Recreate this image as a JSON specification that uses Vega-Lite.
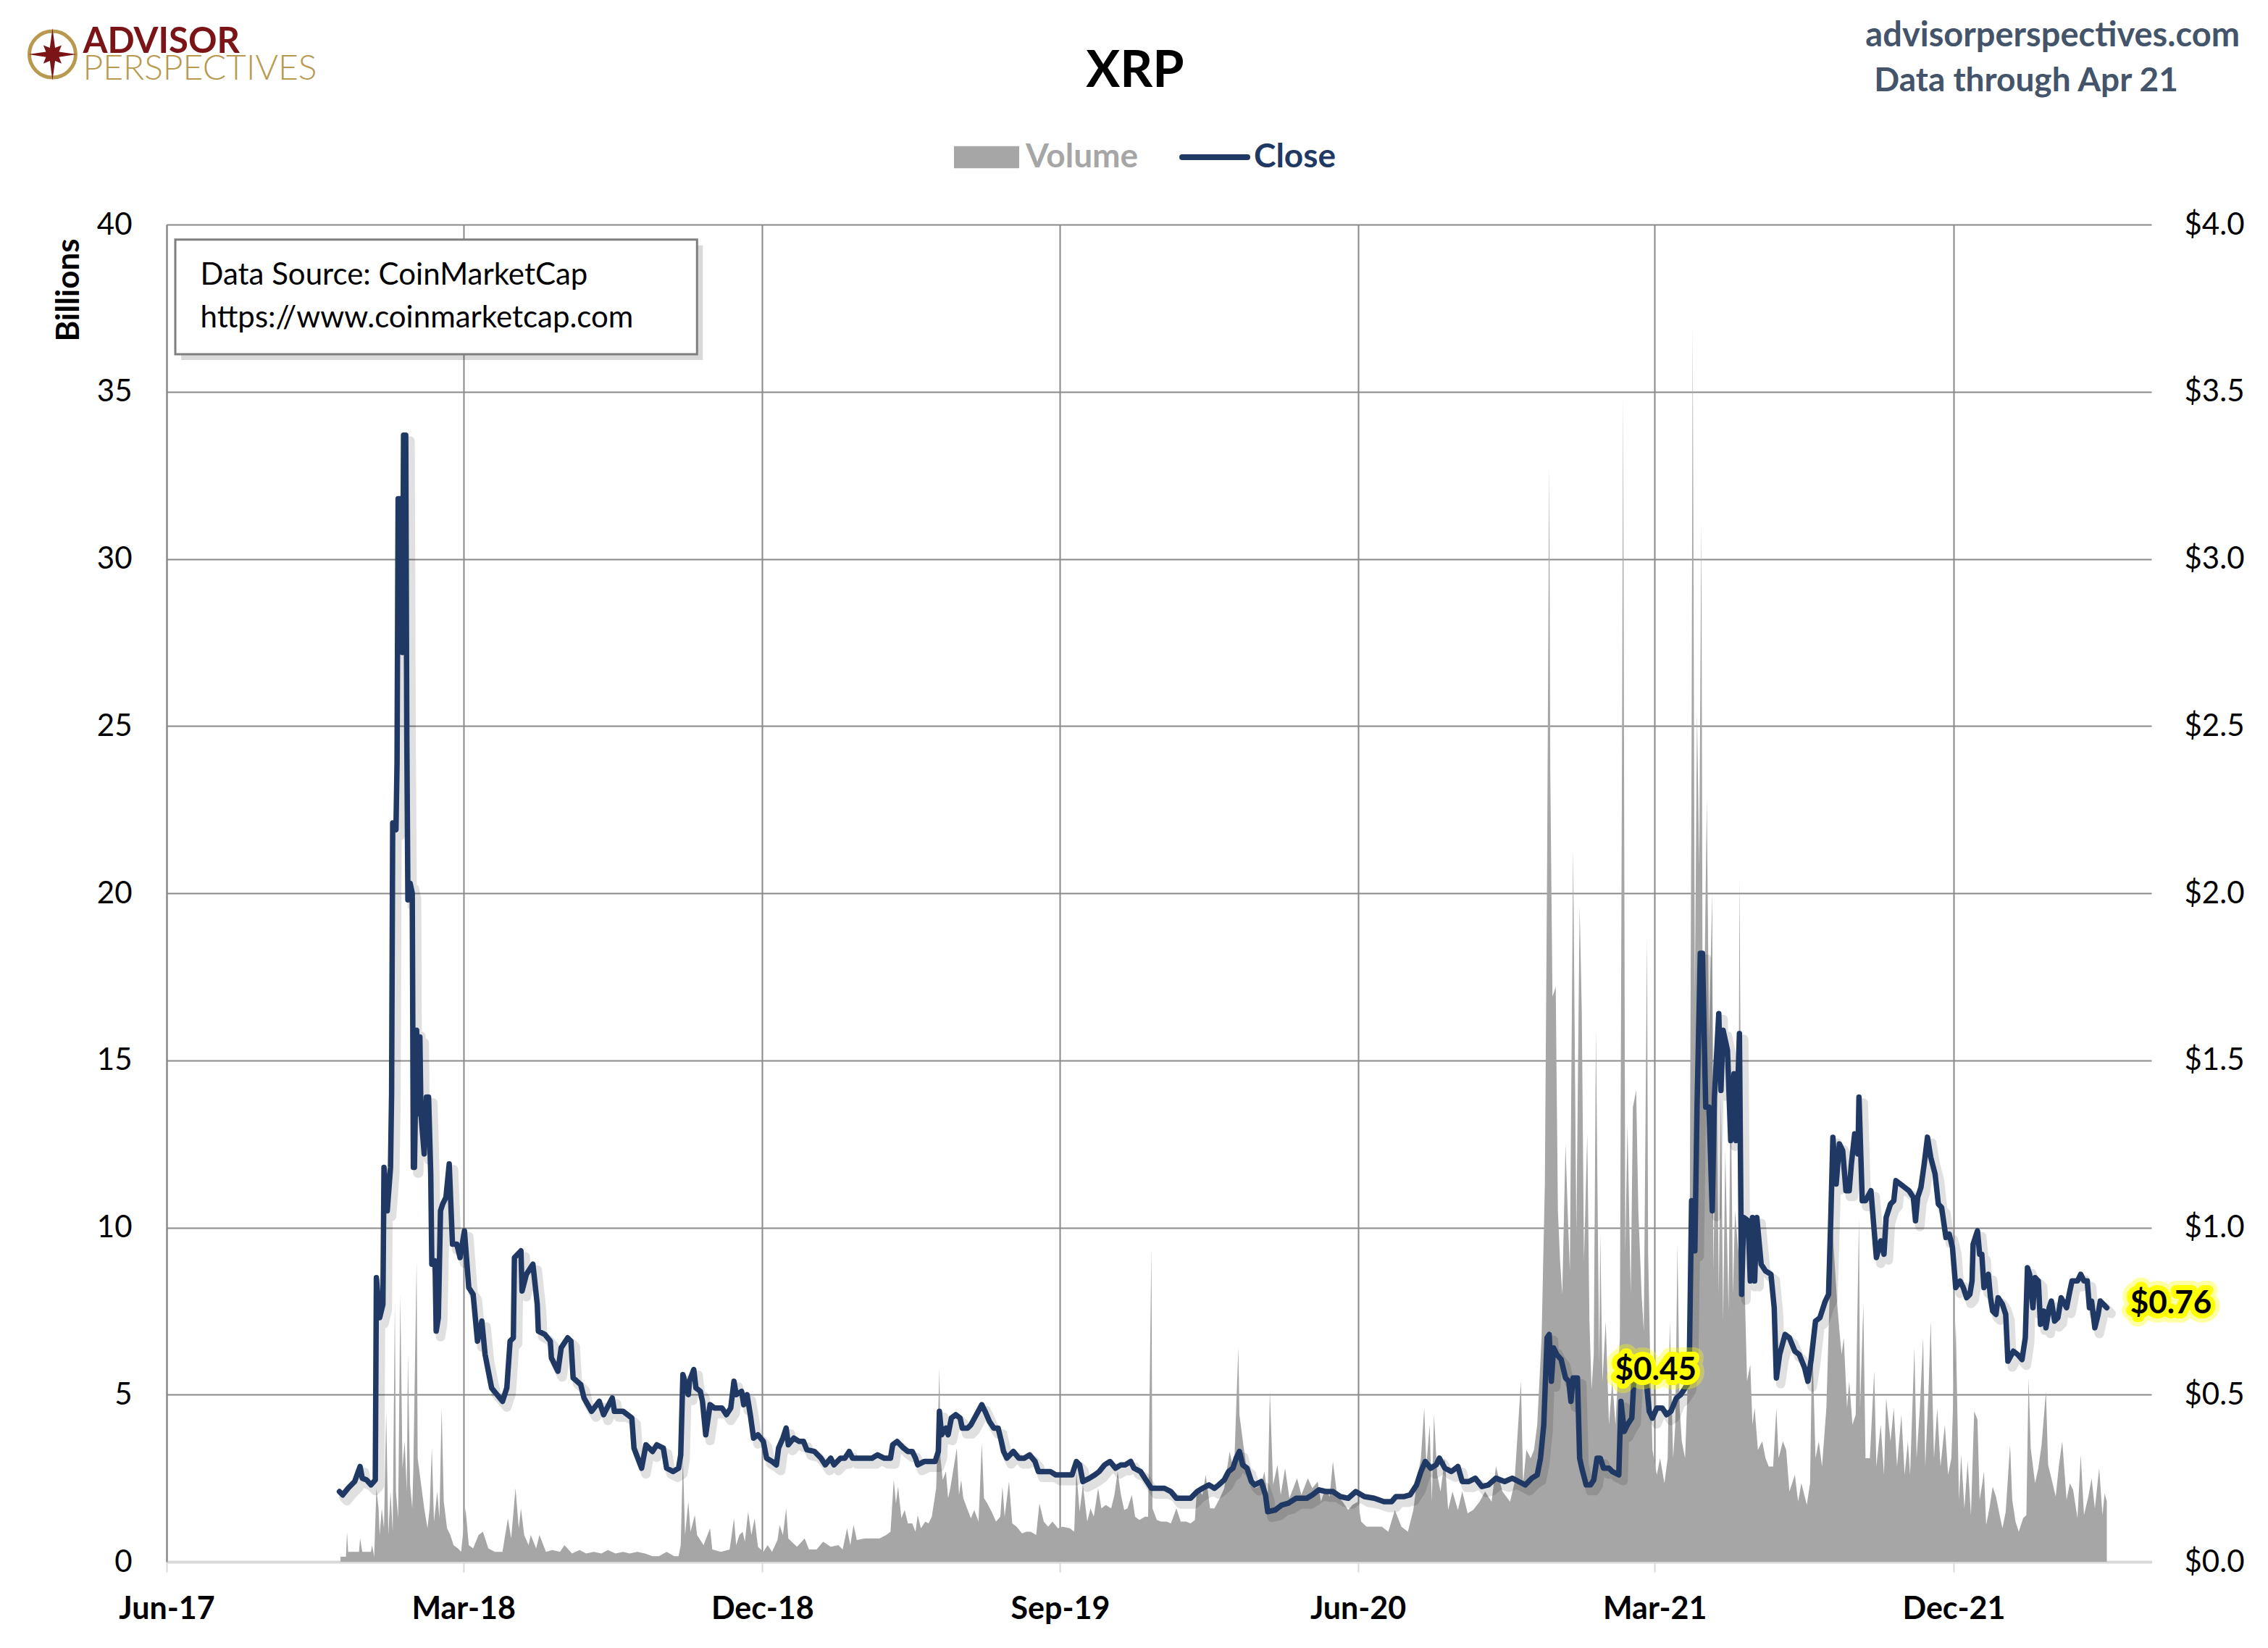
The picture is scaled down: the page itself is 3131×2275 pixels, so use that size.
{
  "$schema": "https://vega.github.io/schema/vega-lite/v6.json",
  "autosize": {"type": "none"},
  "width": 2740,
  "height": 1846,
  "padding": {"left": 230, "top": 310, "right": 161, "bottom": 119},
  "background": "#ffffff",
  "config": {"view": {"stroke": null}},
  "title": {
    "text": "XRP",
    "font": "Lato",
    "fontSize": 70,
    "fontWeight": "bold",
    "color": "#000000",
    "anchor": "middle",
    "frame": "group",
    "baseline": "alphabetic",
    "offset": -164,
    "dx": -33
  },
  "datasets": {
    "volume": [
      {"d":"2017-11-08","v":0.15},{"d":"2017-11-13","v":0.15},{"d":"2017-11-14","v":0.9},{"d":"2017-11-15","v":0.3},{"d":"2017-11-21","v":0.3},
      {"d":"2017-11-25","v":0.3},{"d":"2017-11-26","v":0.7},{"d":"2017-11-28","v":0.3},{"d":"2017-12-06","v":0.3},{"d":"2017-12-07","v":0.5},
      {"d":"2017-12-09","v":0.15},{"d":"2017-12-11","v":2.2},{"d":"2017-12-13","v":1.6},{"d":"2017-12-14","v":0.8},{"d":"2017-12-16","v":1.6},
      {"d":"2017-12-18","v":1.0},{"d":"2017-12-20","v":4.5},{"d":"2017-12-22","v":0.8},{"d":"2017-12-24","v":2.1},{"d":"2017-12-26","v":0.9},
      {"d":"2017-12-28","v":7.8},{"d":"2017-12-29","v":2.1},{"d":"2017-12-31","v":1.3},{"d":"2018-01-02","v":8.0},{"d":"2018-01-04","v":2.8},
      {"d":"2018-01-06","v":3.6},{"d":"2018-01-08","v":2.1},{"d":"2018-01-09","v":6.2},{"d":"2018-01-11","v":2.3},{"d":"2018-01-13","v":1.6},
      {"d":"2018-01-14","v":2.8},{"d":"2018-01-17","v":9.0},{"d":"2018-01-18","v":3.1},{"d":"2018-01-20","v":2.6},{"d":"2018-01-22","v":2.1},
      {"d":"2018-01-24","v":1.6},{"d":"2018-01-27","v":1.0},{"d":"2018-01-29","v":1.6},{"d":"2018-01-31","v":3.4},{"d":"2018-02-02","v":1.2},
      {"d":"2018-02-05","v":2.1},{"d":"2018-02-07","v":1.3},{"d":"2018-02-09","v":4.6},{"d":"2018-02-11","v":1.8},{"d":"2018-02-14","v":1.0},
      {"d":"2018-02-17","v":0.8},{"d":"2018-02-20","v":0.5},{"d":"2018-02-24","v":0.4},{"d":"2018-02-27","v":0.3},{"d":"2018-03-03","v":1.6},
      {"d":"2018-03-06","v":0.5},{"d":"2018-03-10","v":0.4},{"d":"2018-03-15","v":0.8},{"d":"2018-03-19","v":0.9},{"d":"2018-03-24","v":0.4},
      {"d":"2018-03-30","v":0.3},{"d":"2018-04-06","v":0.3},{"d":"2018-04-11","v":1.3},{"d":"2018-04-14","v":0.7},{"d":"2018-04-18","v":2.2},
      {"d":"2018-04-21","v":1.0},{"d":"2018-04-23","v":1.6},{"d":"2018-04-26","v":0.8},{"d":"2018-04-30","v":0.5},{"d":"2018-05-02","v":0.8},
      {"d":"2018-05-07","v":0.4},{"d":"2018-05-10","v":0.8},{"d":"2018-05-16","v":0.3},{"d":"2018-05-22","v":0.35},{"d":"2018-05-29","v":0.3},
      {"d":"2018-06-02","v":0.5},{"d":"2018-06-09","v":0.25},{"d":"2018-06-16","v":0.35},{"d":"2018-06-22","v":0.25},{"d":"2018-06-29","v":0.3},
      {"d":"2018-07-06","v":0.25},{"d":"2018-07-12","v":0.35},{"d":"2018-07-19","v":0.25},{"d":"2018-07-26","v":0.3},{"d":"2018-08-01","v":0.25},
      {"d":"2018-08-08","v":0.3},{"d":"2018-08-15","v":0.25},{"d":"2018-08-22","v":0.17},{"d":"2018-08-28","v":0.17},{"d":"2018-09-04","v":0.3},
      {"d":"2018-09-11","v":0.17},{"d":"2018-09-15","v":0.17},{"d":"2018-09-17","v":0.5},{"d":"2018-09-19","v":3.1},{"d":"2018-09-21","v":0.8},
      {"d":"2018-09-24","v":1.8},{"d":"2018-09-26","v":0.9},{"d":"2018-09-30","v":1.4},{"d":"2018-10-02","v":0.8},{"d":"2018-10-05","v":0.65},
      {"d":"2018-10-08","v":0.5},{"d":"2018-10-14","v":1.0},{"d":"2018-10-16","v":0.37},{"d":"2018-10-24","v":0.3},{"d":"2018-11-01","v":0.37},
      {"d":"2018-11-05","v":1.3},{"d":"2018-11-07","v":0.5},{"d":"2018-11-10","v":0.8},{"d":"2018-11-13","v":0.9},{"d":"2018-11-15","v":0.6},
      {"d":"2018-11-18","v":1.5},{"d":"2018-11-21","v":0.8},{"d":"2018-11-24","v":1.3},{"d":"2018-11-27","v":0.45},{"d":"2018-12-02","v":0.3},
      {"d":"2018-12-06","v":0.5},{"d":"2018-12-10","v":0.3},{"d":"2018-12-15","v":0.65},{"d":"2018-12-17","v":1.1},{"d":"2018-12-20","v":0.8},
      {"d":"2018-12-23","v":1.6},{"d":"2018-12-25","v":0.7},{"d":"2018-12-28","v":0.6},{"d":"2019-01-02","v":0.45},{"d":"2019-01-09","v":0.7},
      {"d":"2019-01-13","v":0.37},{"d":"2019-01-20","v":0.37},{"d":"2019-01-26","v":0.6},{"d":"2019-02-02","v":0.45},{"d":"2019-02-09","v":0.5},
      {"d":"2019-02-13","v":0.37},{"d":"2019-02-17","v":1.0},{"d":"2019-02-20","v":0.5},{"d":"2019-02-23","v":1.1},{"d":"2019-02-26","v":0.65},
      {"d":"2019-03-05","v":0.7},{"d":"2019-03-12","v":0.7},{"d":"2019-03-19","v":0.7},{"d":"2019-03-25","v":0.8},{"d":"2019-03-29","v":0.9},
      {"d":"2019-04-01","v":2.45},{"d":"2019-04-03","v":1.75},{"d":"2019-04-05","v":2.25},{"d":"2019-04-08","v":1.3},{"d":"2019-04-11","v":1.55},
      {"d":"2019-04-14","v":1.15},{"d":"2019-04-18","v":1.15},{"d":"2019-04-21","v":0.9},{"d":"2019-04-23","v":1.4},{"d":"2019-04-26","v":1.0},
      {"d":"2019-04-30","v":1.2},{"d":"2019-05-03","v":1.15},{"d":"2019-05-06","v":1.35},{"d":"2019-05-10","v":2.2},{"d":"2019-05-13","v":5.8},
      {"d":"2019-05-14","v":3.1},{"d":"2019-05-16","v":2.45},{"d":"2019-05-19","v":2.7},{"d":"2019-05-21","v":1.9},{"d":"2019-05-23","v":2.2},
      {"d":"2019-05-26","v":2.8},{"d":"2019-05-29","v":3.4},{"d":"2019-05-31","v":2.0},{"d":"2019-06-02","v":2.45},{"d":"2019-06-04","v":1.9},
      {"d":"2019-06-08","v":1.55},{"d":"2019-06-11","v":1.3},{"d":"2019-06-14","v":1.55},{"d":"2019-06-18","v":1.2},{"d":"2019-06-21","v":3.55},
      {"d":"2019-06-23","v":1.9},{"d":"2019-06-26","v":1.75},{"d":"2019-06-30","v":1.5},{"d":"2019-07-04","v":1.2},{"d":"2019-07-08","v":1.35},
      {"d":"2019-07-10","v":2.25},{"d":"2019-07-12","v":1.35},{"d":"2019-07-16","v":2.4},{"d":"2019-07-19","v":1.15},{"d":"2019-07-23","v":1.05},
      {"d":"2019-07-28","v":0.85},{"d":"2019-08-01","v":0.9},{"d":"2019-08-05","v":0.9},{"d":"2019-08-10","v":0.8},{"d":"2019-08-13","v":1.75},
      {"d":"2019-08-17","v":1.2},{"d":"2019-08-21","v":1.05},{"d":"2019-08-25","v":1.2},{"d":"2019-08-30","v":1.0},{"d":"2019-09-03","v":1.05},
      {"d":"2019-09-10","v":1.0},{"d":"2019-09-14","v":0.9},{"d":"2019-09-16","v":2.7},{"d":"2019-09-19","v":1.5},{"d":"2019-09-22","v":2.3},
      {"d":"2019-09-26","v":1.2},{"d":"2019-09-29","v":1.6},{"d":"2019-10-02","v":1.35},{"d":"2019-10-06","v":2.2},{"d":"2019-10-09","v":1.6},
      {"d":"2019-10-13","v":1.7},{"d":"2019-10-18","v":1.6},{"d":"2019-10-21","v":2.0},{"d":"2019-10-24","v":2.7},{"d":"2019-10-27","v":2.0},
      {"d":"2019-10-30","v":1.55},{"d":"2019-11-02","v":1.6},{"d":"2019-11-06","v":2.0},{"d":"2019-11-09","v":1.35},{"d":"2019-11-13","v":1.25},
      {"d":"2019-11-18","v":1.35},{"d":"2019-11-21","v":1.35},{"d":"2019-11-24","v":9.4},{"d":"2019-11-25","v":1.6},{"d":"2019-11-29","v":1.25},
      {"d":"2019-12-03","v":1.2},{"d":"2019-12-08","v":1.2},{"d":"2019-12-12","v":1.15},{"d":"2019-12-17","v":1.6},{"d":"2019-12-21","v":1.2},
      {"d":"2019-12-26","v":1.2},{"d":"2019-12-30","v":1.15},{"d":"2020-01-03","v":1.25},{"d":"2020-01-05","v":2.2},{"d":"2020-01-10","v":2.0},
      {"d":"2020-01-13","v":2.6},{"d":"2020-01-17","v":1.6},{"d":"2020-01-21","v":1.6},{"d":"2020-01-26","v":1.9},{"d":"2020-01-30","v":2.2},
      {"d":"2020-02-04","v":3.3},{"d":"2020-02-08","v":2.7},{"d":"2020-02-12","v":6.4},{"d":"2020-02-13","v":4.4},{"d":"2020-02-17","v":3.4},
      {"d":"2020-02-20","v":2.7},{"d":"2020-02-23","v":2.45},{"d":"2020-02-28","v":2.2},{"d":"2020-03-04","v":2.3},{"d":"2020-03-07","v":2.7},
      {"d":"2020-03-10","v":1.9},{"d":"2020-03-12","v":5.1},{"d":"2020-03-15","v":2.3},{"d":"2020-03-19","v":2.9},{"d":"2020-03-22","v":2.0},
      {"d":"2020-03-26","v":2.8},{"d":"2020-03-30","v":1.9},{"d":"2020-04-06","v":2.5},{"d":"2020-04-10","v":2.0},{"d":"2020-04-16","v":2.5},
      {"d":"2020-04-20","v":2.2},{"d":"2020-04-25","v":2.4},{"d":"2020-04-28","v":1.8},{"d":"2020-05-02","v":2.2},{"d":"2020-05-06","v":1.95},
      {"d":"2020-05-09","v":3.0},{"d":"2020-05-13","v":1.95},{"d":"2020-05-18","v":1.8},{"d":"2020-05-23","v":1.55},{"d":"2020-05-27","v":1.7},
      {"d":"2020-06-01","v":1.8},{"d":"2020-06-04","v":1.2},{"d":"2020-06-09","v":1.05},{"d":"2020-06-16","v":1.05},{"d":"2020-06-23","v":1.05},
      {"d":"2020-06-29","v":0.9},{"d":"2020-07-05","v":1.55},{"d":"2020-07-11","v":1.05},{"d":"2020-07-17","v":0.9},{"d":"2020-07-22","v":1.55},
      {"d":"2020-07-26","v":2.6},{"d":"2020-07-29","v":3.1},{"d":"2020-08-01","v":4.6},{"d":"2020-08-03","v":2.85},{"d":"2020-08-06","v":4.1},
      {"d":"2020-08-08","v":1.8},{"d":"2020-08-10","v":4.4},{"d":"2020-08-13","v":2.6},{"d":"2020-08-16","v":2.1},{"d":"2020-08-20","v":3.1},
      {"d":"2020-08-23","v":1.55},{"d":"2020-08-27","v":2.1},{"d":"2020-09-01","v":1.55},{"d":"2020-09-05","v":2.1},{"d":"2020-09-10","v":1.45},
      {"d":"2020-09-15","v":1.55},{"d":"2020-09-21","v":1.8},{"d":"2020-09-26","v":2.1},{"d":"2020-10-02","v":1.8},{"d":"2020-10-06","v":2.85},
      {"d":"2020-10-12","v":2.1},{"d":"2020-10-19","v":1.8},{"d":"2020-10-23","v":2.35},{"d":"2020-10-29","v":5.4},{"d":"2020-10-31","v":2.35},
      {"d":"2020-11-03","v":3.35},{"d":"2020-11-07","v":3.1},{"d":"2020-11-10","v":3.35},{"d":"2020-11-13","v":4.1},{"d":"2020-11-17","v":6.7},
      {"d":"2020-11-20","v":11.3},{"d":"2020-11-22","v":20.5},{"d":"2020-11-24","v":32.8},{"d":"2020-11-25","v":23.6},{"d":"2020-11-27","v":16.9},
      {"d":"2020-11-30","v":17.2},{"d":"2020-12-02","v":10.5},{"d":"2020-12-04","v":9.0},{"d":"2020-12-06","v":8.0},{"d":"2020-12-09","v":12.5},
      {"d":"2020-12-11","v":10.5},{"d":"2020-12-13","v":8.7},{"d":"2020-12-16","v":21.3},{"d":"2020-12-19","v":9.8},{"d":"2020-12-22","v":19.6},
      {"d":"2020-12-24","v":16.4},{"d":"2020-12-26","v":9.0},{"d":"2020-12-29","v":12.8},{"d":"2020-12-31","v":7.2},{"d":"2021-01-02","v":5.15},
      {"d":"2021-01-04","v":6.2},{"d":"2021-01-06","v":15.9},{"d":"2021-01-09","v":5.9},{"d":"2021-01-10","v":9.8},{"d":"2021-01-12","v":5.4},
      {"d":"2021-01-15","v":7.2},{"d":"2021-01-18","v":4.1},{"d":"2021-01-21","v":5.4},{"d":"2021-01-24","v":4.1},{"d":"2021-01-28","v":6.7},
      {"d":"2021-01-30","v":24.6},{"d":"2021-01-31","v":34.9},{"d":"2021-02-02","v":9.25},{"d":"2021-02-04","v":13.1},{"d":"2021-02-07","v":8.0},
      {"d":"2021-02-09","v":13.6},{"d":"2021-02-12","v":14.1},{"d":"2021-02-14","v":10.5},{"d":"2021-02-17","v":8.0},{"d":"2021-02-19","v":6.9},
      {"d":"2021-02-22","v":18.7},{"d":"2021-02-23","v":9.25},{"d":"2021-02-25","v":5.9},{"d":"2021-02-27","v":3.35},{"d":"2021-03-03","v":2.6},
      {"d":"2021-03-06","v":3.1},{"d":"2021-03-10","v":2.35},{"d":"2021-03-13","v":3.1},{"d":"2021-03-15","v":7.2},{"d":"2021-03-18","v":3.1},
      {"d":"2021-03-20","v":4.1},{"d":"2021-03-22","v":9.5},{"d":"2021-03-24","v":4.6},{"d":"2021-03-26","v":3.6},{"d":"2021-03-29","v":3.1},
      {"d":"2021-03-31","v":4.9},{"d":"2021-04-02","v":7.7},{"d":"2021-04-04","v":24.6},{"d":"2021-04-05","v":37.0},{"d":"2021-04-07","v":16.9},
      {"d":"2021-04-09","v":25.4},{"d":"2021-04-11","v":20.8},{"d":"2021-04-13","v":31.1},{"d":"2021-04-14","v":18.2},{"d":"2021-04-16","v":17.7},
      {"d":"2021-04-18","v":22.8},{"d":"2021-04-20","v":15.7},{"d":"2021-04-23","v":20.0},{"d":"2021-04-24","v":8.7},{"d":"2021-04-27","v":14.9},
      {"d":"2021-04-29","v":8.0},{"d":"2021-05-01","v":13.9},{"d":"2021-05-03","v":7.2},{"d":"2021-05-05","v":12.3},{"d":"2021-05-08","v":7.5},
      {"d":"2021-05-10","v":14.6},{"d":"2021-05-12","v":8.0},{"d":"2021-05-14","v":10.5},{"d":"2021-05-17","v":9.25},{"d":"2021-05-18","v":20.5},
      {"d":"2021-05-20","v":10.5},{"d":"2021-05-23","v":8.0},{"d":"2021-05-25","v":5.4},{"d":"2021-05-28","v":5.9},{"d":"2021-05-30","v":4.1},
      {"d":"2021-06-01","v":4.6},{"d":"2021-06-04","v":3.35},{"d":"2021-06-08","v":3.6},{"d":"2021-06-11","v":3.1},{"d":"2021-06-14","v":2.85},
      {"d":"2021-06-18","v":2.85},{"d":"2021-06-21","v":4.6},{"d":"2021-06-23","v":3.1},{"d":"2021-06-27","v":3.6},{"d":"2021-06-30","v":3.35},
      {"d":"2021-07-03","v":2.1},{"d":"2021-07-08","v":2.6},{"d":"2021-07-11","v":1.8},{"d":"2021-07-14","v":2.35},{"d":"2021-07-19","v":1.7},
      {"d":"2021-07-22","v":2.35},{"d":"2021-07-24","v":6.7},{"d":"2021-07-27","v":3.1},{"d":"2021-07-30","v":3.6},{"d":"2021-08-02","v":2.85},
      {"d":"2021-08-06","v":4.6},{"d":"2021-08-09","v":8.0},{"d":"2021-08-11","v":10.3},{"d":"2021-08-13","v":9.25},{"d":"2021-08-16","v":7.7},
      {"d":"2021-08-18","v":6.9},{"d":"2021-08-20","v":6.2},{"d":"2021-08-22","v":6.7},{"d":"2021-08-25","v":4.6},{"d":"2021-08-27","v":5.4},
      {"d":"2021-08-30","v":4.1},{"d":"2021-09-02","v":4.4},{"d":"2021-09-05","v":10.3},{"d":"2021-09-06","v":4.6},{"d":"2021-09-09","v":7.7},
      {"d":"2021-09-11","v":3.1},{"d":"2021-09-15","v":3.1},{"d":"2021-09-19","v":5.7},{"d":"2021-09-21","v":2.85},{"d":"2021-09-25","v":4.1},
      {"d":"2021-09-28","v":2.6},{"d":"2021-09-30","v":4.9},{"d":"2021-10-04","v":3.6},{"d":"2021-10-07","v":4.6},{"d":"2021-10-10","v":2.85},
      {"d":"2021-10-14","v":4.4},{"d":"2021-10-17","v":2.6},{"d":"2021-10-20","v":3.6},{"d":"2021-10-22","v":2.6},{"d":"2021-10-26","v":6.4},
      {"d":"2021-10-28","v":3.1},{"d":"2021-10-31","v":4.6},{"d":"2021-11-03","v":6.7},{"d":"2021-11-05","v":2.85},{"d":"2021-11-08","v":5.15},
      {"d":"2021-11-10","v":7.2},{"d":"2021-11-13","v":3.1},{"d":"2021-11-16","v":4.6},{"d":"2021-11-19","v":2.85},{"d":"2021-11-23","v":4.1},
      {"d":"2021-11-26","v":2.6},{"d":"2021-11-29","v":3.1},{"d":"2021-12-03","v":7.2},{"d":"2021-12-06","v":1.85},{"d":"2021-12-08","v":3.2},
      {"d":"2021-12-11","v":1.6},{"d":"2021-12-14","v":3.0},{"d":"2021-12-17","v":1.4},{"d":"2021-12-20","v":4.5},{"d":"2021-12-23","v":4.25},
      {"d":"2021-12-25","v":1.85},{"d":"2021-12-27","v":2.25},{"d":"2021-12-29","v":2.7},{"d":"2021-12-31","v":1.1},{"d":"2022-01-03","v":1.6},
      {"d":"2022-01-06","v":2.25},{"d":"2022-01-09","v":1.95},{"d":"2022-01-13","v":1.3},{"d":"2022-01-15","v":1.0},{"d":"2022-01-18","v":1.5},
      {"d":"2022-01-22","v":3.5},{"d":"2022-01-24","v":1.85},{"d":"2022-01-27","v":1.2},{"d":"2022-01-30","v":0.9},{"d":"2022-02-03","v":1.3},
      {"d":"2022-02-06","v":1.4},{"d":"2022-02-08","v":5.5},{"d":"2022-02-10","v":3.4},{"d":"2022-02-14","v":2.35},{"d":"2022-02-17","v":2.8},
      {"d":"2022-02-20","v":3.5},{"d":"2022-02-24","v":5.1},{"d":"2022-02-26","v":2.9},{"d":"2022-03-01","v":2.5},{"d":"2022-03-05","v":1.95},
      {"d":"2022-03-08","v":2.9},{"d":"2022-03-11","v":3.6},{"d":"2022-03-15","v":1.85},{"d":"2022-03-18","v":2.35},{"d":"2022-03-21","v":2.15},
      {"d":"2022-03-25","v":1.3},{"d":"2022-03-28","v":3.2},{"d":"2022-03-31","v":1.4},{"d":"2022-04-04","v":1.95},{"d":"2022-04-07","v":2.5},
      {"d":"2022-04-10","v":1.6},{"d":"2022-04-14","v":2.8},{"d":"2022-04-17","v":1.4},{"d":"2022-04-19","v":2.05},{"d":"2022-04-21","v":1.8}
    ],
    "close": [
      {"d":"2017-11-07","c":0.21},{"d":"2017-11-10","c":0.20},{"d":"2017-11-15","c":0.22},{"d":"2017-11-21","c":0.24},{"d":"2017-11-26","c":0.285},
      {"d":"2017-11-28","c":0.25},{"d":"2017-12-02","c":0.245},{"d":"2017-12-06","c":0.23},{"d":"2017-12-10","c":0.245},{"d":"2017-12-11","c":0.85},
      {"d":"2017-12-14","c":0.73},{"d":"2017-12-17","c":0.77},{"d":"2017-12-18","c":1.18},{"d":"2017-12-21","c":1.05},{"d":"2017-12-24","c":1.18},
      {"d":"2017-12-25","c":1.40},{"d":"2017-12-26","c":2.21},{"d":"2017-12-29","c":2.19},{"d":"2017-12-30","c":2.39},{"d":"2017-12-31","c":3.18},
      {"d":"2018-01-03","c":3.18},{"d":"2018-01-04","c":2.72},{"d":"2018-01-05","c":3.37},{"d":"2018-01-07","c":3.37},{"d":"2018-01-08","c":2.46},
      {"d":"2018-01-09","c":1.98},{"d":"2018-01-11","c":2.03},{"d":"2018-01-13","c":2.00},{"d":"2018-01-14","c":1.18},{"d":"2018-01-15","c":1.18},
      {"d":"2018-01-17","c":1.59},{"d":"2018-01-19","c":1.34},{"d":"2018-01-20","c":1.57},{"d":"2018-01-21","c":1.34},{"d":"2018-01-24","c":1.22},
      {"d":"2018-01-26","c":1.39},{"d":"2018-01-28","c":1.39},{"d":"2018-01-30","c":1.16},{"d":"2018-01-31","c":0.89},{"d":"2018-02-03","c":0.90},
      {"d":"2018-02-04","c":0.69},{"d":"2018-02-06","c":0.73},{"d":"2018-02-08","c":1.05},{"d":"2018-02-10","c":1.07},{"d":"2018-02-13","c":1.09},
      {"d":"2018-02-16","c":1.19},{"d":"2018-02-19","c":0.95},{"d":"2018-02-23","c":0.95},{"d":"2018-02-26","c":0.91},{"d":"2018-03-02","c":0.99},
      {"d":"2018-03-06","c":0.82},{"d":"2018-03-10","c":0.80},{"d":"2018-03-14","c":0.66},{"d":"2018-03-18","c":0.72},{"d":"2018-03-21","c":0.62},
      {"d":"2018-03-27","c":0.52},{"d":"2018-04-01","c":0.50},{"d":"2018-04-06","c":0.48},{"d":"2018-04-10","c":0.52},{"d":"2018-04-13","c":0.66},
      {"d":"2018-04-16","c":0.67},{"d":"2018-04-17","c":0.91},{"d":"2018-04-23","c":0.93},{"d":"2018-04-24","c":0.81},{"d":"2018-04-28","c":0.86},
      {"d":"2018-05-04","c":0.89},{"d":"2018-05-08","c":0.77},{"d":"2018-05-09","c":0.69},{"d":"2018-05-15","c":0.68},{"d":"2018-05-20","c":0.66},
      {"d":"2018-05-21","c":0.61},{"d":"2018-05-27","c":0.57},{"d":"2018-05-30","c":0.64},{"d":"2018-06-05","c":0.67},{"d":"2018-06-08","c":0.66},
      {"d":"2018-06-10","c":0.55},{"d":"2018-06-17","c":0.53},{"d":"2018-06-20","c":0.49},{"d":"2018-06-27","c":0.45},{"d":"2018-07-04","c":0.48},
      {"d":"2018-07-08","c":0.44},{"d":"2018-07-16","c":0.49},{"d":"2018-07-18","c":0.45},{"d":"2018-07-26","c":0.45},{"d":"2018-08-03","c":0.43},
      {"d":"2018-08-05","c":0.34},{"d":"2018-08-12","c":0.28},{"d":"2018-08-16","c":0.35},{"d":"2018-08-22","c":0.33},{"d":"2018-08-26","c":0.35},
      {"d":"2018-09-01","c":0.34},{"d":"2018-09-04","c":0.28},{"d":"2018-09-10","c":0.27},{"d":"2018-09-15","c":0.28},{"d":"2018-09-17","c":0.32},
      {"d":"2018-09-19","c":0.56},{"d":"2018-09-24","c":0.50},{"d":"2018-09-25","c":0.54},{"d":"2018-09-29","c":0.575},{"d":"2018-10-01","c":0.52},
      {"d":"2018-10-05","c":0.51},{"d":"2018-10-07","c":0.48},{"d":"2018-10-10","c":0.38},{"d":"2018-10-14","c":0.47},{"d":"2018-10-18","c":0.46},
      {"d":"2018-10-25","c":0.46},{"d":"2018-10-29","c":0.44},{"d":"2018-11-02","c":0.46},{"d":"2018-11-05","c":0.54},{"d":"2018-11-07","c":0.50},
      {"d":"2018-11-12","c":0.51},{"d":"2018-11-14","c":0.47},{"d":"2018-11-17","c":0.50},{"d":"2018-11-20","c":0.44},{"d":"2018-11-23","c":0.37},
      {"d":"2018-11-27","c":0.38},{"d":"2018-12-02","c":0.36},{"d":"2018-12-05","c":0.31},{"d":"2018-12-10","c":0.30},{"d":"2018-12-14","c":0.29},
      {"d":"2018-12-16","c":0.34},{"d":"2018-12-20","c":0.37},{"d":"2018-12-23","c":0.40},{"d":"2018-12-25","c":0.35},{"d":"2018-12-30","c":0.37},
      {"d":"2019-01-04","c":0.36},{"d":"2019-01-08","c":0.36},{"d":"2019-01-11","c":0.335},{"d":"2019-01-18","c":0.33},{"d":"2019-01-24","c":0.31},
      {"d":"2019-01-28","c":0.29},{"d":"2019-02-02","c":0.31},{"d":"2019-02-05","c":0.29},{"d":"2019-02-11","c":0.31},{"d":"2019-02-15","c":0.31},
      {"d":"2019-02-19","c":0.33},{"d":"2019-02-22","c":0.31},{"d":"2019-03-01","c":0.31},{"d":"2019-03-05","c":0.31},{"d":"2019-03-12","c":0.31},
      {"d":"2019-03-17","c":0.32},{"d":"2019-03-23","c":0.31},{"d":"2019-03-29","c":0.31},{"d":"2019-03-31","c":0.35},{"d":"2019-04-04","c":0.36},
      {"d":"2019-04-10","c":0.34},{"d":"2019-04-14","c":0.33},{"d":"2019-04-18","c":0.33},{"d":"2019-04-21","c":0.31},{"d":"2019-04-23","c":0.29},
      {"d":"2019-04-29","c":0.30},{"d":"2019-05-04","c":0.30},{"d":"2019-05-09","c":0.30},{"d":"2019-05-12","c":0.33},{"d":"2019-05-13","c":0.45},
      {"d":"2019-05-15","c":0.38},{"d":"2019-05-19","c":0.40},{"d":"2019-05-21","c":0.38},{"d":"2019-05-24","c":0.43},{"d":"2019-05-28","c":0.44},
      {"d":"2019-06-01","c":0.43},{"d":"2019-06-03","c":0.40},{"d":"2019-06-08","c":0.40},{"d":"2019-06-11","c":0.41},{"d":"2019-06-16","c":0.44},
      {"d":"2019-06-21","c":0.47},{"d":"2019-06-24","c":0.45},{"d":"2019-06-28","c":0.42},{"d":"2019-07-02","c":0.40},{"d":"2019-07-06","c":0.40},
      {"d":"2019-07-09","c":0.36},{"d":"2019-07-11","c":0.33},{"d":"2019-07-14","c":0.31},{"d":"2019-07-20","c":0.33},{"d":"2019-07-25","c":0.31},
      {"d":"2019-07-30","c":0.31},{"d":"2019-08-04","c":0.32},{"d":"2019-08-09","c":0.30},{"d":"2019-08-12","c":0.27},{"d":"2019-08-18","c":0.27},
      {"d":"2019-08-23","c":0.27},{"d":"2019-08-28","c":0.26},{"d":"2019-09-01","c":0.26},{"d":"2019-09-06","c":0.26},{"d":"2019-09-12","c":0.26},
      {"d":"2019-09-16","c":0.30},{"d":"2019-09-19","c":0.29},{"d":"2019-09-22","c":0.24},{"d":"2019-09-28","c":0.25},{"d":"2019-10-03","c":0.26},
      {"d":"2019-10-07","c":0.27},{"d":"2019-10-12","c":0.29},{"d":"2019-10-17","c":0.30},{"d":"2019-10-22","c":0.28},{"d":"2019-10-27","c":0.29},
      {"d":"2019-10-31","c":0.29},{"d":"2019-11-05","c":0.30},{"d":"2019-11-08","c":0.28},{"d":"2019-11-14","c":0.27},{"d":"2019-11-19","c":0.245},
      {"d":"2019-11-24","c":0.22},{"d":"2019-11-29","c":0.22},{"d":"2019-12-06","c":0.22},{"d":"2019-12-12","c":0.21},{"d":"2019-12-17","c":0.19},
      {"d":"2019-12-24","c":0.19},{"d":"2019-12-30","c":0.19},{"d":"2020-01-05","c":0.21},{"d":"2020-01-10","c":0.22},{"d":"2020-01-16","c":0.23},
      {"d":"2020-01-21","c":0.22},{"d":"2020-01-25","c":0.23},{"d":"2020-01-30","c":0.245},{"d":"2020-02-03","c":0.27},{"d":"2020-02-07","c":0.28},
      {"d":"2020-02-10","c":0.31},{"d":"2020-02-13","c":0.33},{"d":"2020-02-16","c":0.29},{"d":"2020-02-20","c":0.28},{"d":"2020-02-24","c":0.24},
      {"d":"2020-02-27","c":0.23},{"d":"2020-03-04","c":0.24},{"d":"2020-03-08","c":0.20},{"d":"2020-03-10","c":0.15},{"d":"2020-03-17","c":0.155},
      {"d":"2020-03-23","c":0.17},{"d":"2020-03-29","c":0.175},{"d":"2020-04-05","c":0.19},{"d":"2020-04-10","c":0.19},{"d":"2020-04-15","c":0.19},
      {"d":"2020-04-20","c":0.20},{"d":"2020-04-26","c":0.215},{"d":"2020-05-03","c":0.21},{"d":"2020-05-09","c":0.21},{"d":"2020-05-16","c":0.195},
      {"d":"2020-05-23","c":0.19},{"d":"2020-05-30","c":0.21},{"d":"2020-06-07","c":0.195},{"d":"2020-06-16","c":0.19},{"d":"2020-06-25","c":0.18},
      {"d":"2020-07-02","c":0.18},{"d":"2020-07-06","c":0.195},{"d":"2020-07-13","c":0.195},{"d":"2020-07-19","c":0.20},{"d":"2020-07-25","c":0.23},
      {"d":"2020-07-29","c":0.27},{"d":"2020-08-02","c":0.30},{"d":"2020-08-07","c":0.28},{"d":"2020-08-12","c":0.29},{"d":"2020-08-15","c":0.31},
      {"d":"2020-08-20","c":0.28},{"d":"2020-08-26","c":0.27},{"d":"2020-09-01","c":0.285},{"d":"2020-09-05","c":0.24},{"d":"2020-09-11","c":0.24},
      {"d":"2020-09-17","c":0.25},{"d":"2020-09-23","c":0.225},{"d":"2020-09-29","c":0.23},{"d":"2020-10-06","c":0.25},{"d":"2020-10-14","c":0.24},
      {"d":"2020-10-21","c":0.25},{"d":"2020-10-27","c":0.24},{"d":"2020-11-02","c":0.23},{"d":"2020-11-08","c":0.25},{"d":"2020-11-13","c":0.26},
      {"d":"2020-11-16","c":0.31},{"d":"2020-11-19","c":0.41},{"d":"2020-11-22","c":0.67},{"d":"2020-11-24","c":0.68},{"d":"2020-11-26","c":0.54},
      {"d":"2020-11-28","c":0.64},{"d":"2020-12-01","c":0.62},{"d":"2020-12-05","c":0.605},{"d":"2020-12-09","c":0.55},{"d":"2020-12-12","c":0.54},
      {"d":"2020-12-14","c":0.48},{"d":"2020-12-16","c":0.55},{"d":"2020-12-20","c":0.55},{"d":"2020-12-22","c":0.31},{"d":"2020-12-24","c":0.28},
      {"d":"2020-12-28","c":0.23},{"d":"2021-01-01","c":0.23},{"d":"2021-01-04","c":0.245},{"d":"2021-01-07","c":0.31},{"d":"2021-01-10","c":0.31},
      {"d":"2021-01-13","c":0.28},{"d":"2021-01-18","c":0.28},{"d":"2021-01-21","c":0.27},{"d":"2021-01-27","c":0.26},{"d":"2021-01-29","c":0.48},
      {"d":"2021-02-01","c":0.39},{"d":"2021-02-04","c":0.41},{"d":"2021-02-08","c":0.43},{"d":"2021-02-10","c":0.55},{"d":"2021-02-13","c":0.59},
      {"d":"2021-02-18","c":0.59},{"d":"2021-02-21","c":0.55},{"d":"2021-02-24","c":0.45},{"d":"2021-02-27","c":0.43},{"d":"2021-03-03","c":0.46},
      {"d":"2021-03-08","c":0.46},{"d":"2021-03-12","c":0.44},{"d":"2021-03-16","c":0.45},{"d":"2021-03-21","c":0.49},{"d":"2021-03-25","c":0.50},
      {"d":"2021-03-31","c":0.53},{"d":"2021-04-02","c":0.62},{"d":"2021-04-04","c":1.08},{"d":"2021-04-07","c":0.93},{"d":"2021-04-09","c":1.36},
      {"d":"2021-04-12","c":1.82},{"d":"2021-04-14","c":1.82},{"d":"2021-04-17","c":1.36},{"d":"2021-04-20","c":1.36},{"d":"2021-04-23","c":1.05},
      {"d":"2021-04-25","c":1.39},{"d":"2021-04-29","c":1.64},{"d":"2021-05-01","c":1.41},{"d":"2021-05-03","c":1.59},{"d":"2021-05-07","c":1.53},
      {"d":"2021-05-10","c":1.26},{"d":"2021-05-13","c":1.46},{"d":"2021-05-15","c":1.26},{"d":"2021-05-18","c":1.58},{"d":"2021-05-20","c":0.80},
      {"d":"2021-05-22","c":1.03},{"d":"2021-05-26","c":1.02},{"d":"2021-05-28","c":0.84},{"d":"2021-05-30","c":1.03},{"d":"2021-06-01","c":0.84},
      {"d":"2021-06-03","c":1.03},{"d":"2021-06-07","c":0.89},{"d":"2021-06-11","c":0.87},{"d":"2021-06-16","c":0.86},{"d":"2021-06-19","c":0.76},
      {"d":"2021-06-21","c":0.55},{"d":"2021-06-24","c":0.62},{"d":"2021-06-29","c":0.68},{"d":"2021-07-03","c":0.67},{"d":"2021-07-08","c":0.63},
      {"d":"2021-07-12","c":0.62},{"d":"2021-07-17","c":0.58},{"d":"2021-07-20","c":0.54},{"d":"2021-07-23","c":0.605},{"d":"2021-07-27","c":0.72},
      {"d":"2021-07-31","c":0.73},{"d":"2021-08-05","c":0.78},{"d":"2021-08-08","c":0.80},{"d":"2021-08-10","c":1.02},{"d":"2021-08-12","c":1.27},
      {"d":"2021-08-15","c":1.13},{"d":"2021-08-18","c":1.25},{"d":"2021-08-21","c":1.23},{"d":"2021-08-24","c":1.11},{"d":"2021-08-27","c":1.11},
      {"d":"2021-08-29","c":1.19},{"d":"2021-09-01","c":1.28},{"d":"2021-09-04","c":1.22},{"d":"2021-09-05","c":1.39},{"d":"2021-09-08","c":1.08},
      {"d":"2021-09-11","c":1.08},{"d":"2021-09-16","c":1.11},{"d":"2021-09-19","c":0.99},{"d":"2021-09-21","c":0.91},{"d":"2021-09-25","c":0.96},
      {"d":"2021-09-28","c":0.92},{"d":"2021-09-30","c":1.03},{"d":"2021-10-04","c":1.07},{"d":"2021-10-07","c":1.08},{"d":"2021-10-09","c":1.14},
      {"d":"2021-10-13","c":1.13},{"d":"2021-10-17","c":1.12},{"d":"2021-10-21","c":1.11},{"d":"2021-10-25","c":1.09},{"d":"2021-10-27","c":1.02},
      {"d":"2021-10-29","c":1.09},{"d":"2021-11-01","c":1.12},{"d":"2021-11-04","c":1.19},{"d":"2021-11-07","c":1.27},{"d":"2021-11-10","c":1.21},
      {"d":"2021-11-14","c":1.16},{"d":"2021-11-17","c":1.07},{"d":"2021-11-20","c":1.06},{"d":"2021-11-24","c":0.97},{"d":"2021-11-27","c":0.98},
      {"d":"2021-11-30","c":0.94},{"d":"2021-12-03","c":0.82},{"d":"2021-12-07","c":0.84},{"d":"2021-12-10","c":0.82},{"d":"2021-12-13","c":0.79},
      {"d":"2021-12-16","c":0.80},{"d":"2021-12-18","c":0.84},{"d":"2021-12-19","c":0.95},{"d":"2021-12-23","c":0.99},{"d":"2021-12-25","c":0.92},
      {"d":"2021-12-27","c":0.92},{"d":"2021-12-29","c":0.82},{"d":"2022-01-02","c":0.86},{"d":"2022-01-04","c":0.79},{"d":"2022-01-06","c":0.75},
      {"d":"2022-01-09","c":0.74},{"d":"2022-01-11","c":0.79},{"d":"2022-01-15","c":0.77},{"d":"2022-01-18","c":0.74},{"d":"2022-01-20","c":0.60},
      {"d":"2022-01-25","c":0.63},{"d":"2022-01-29","c":0.62},{"d":"2022-02-02","c":0.605},{"d":"2022-02-05","c":0.67},{"d":"2022-02-07","c":0.88},
      {"d":"2022-02-09","c":0.86},{"d":"2022-02-12","c":0.76},{"d":"2022-02-14","c":0.85},{"d":"2022-02-17","c":0.84},{"d":"2022-02-19","c":0.71},
      {"d":"2022-02-22","c":0.75},{"d":"2022-02-24","c":0.70},{"d":"2022-02-27","c":0.76},{"d":"2022-03-01","c":0.78},{"d":"2022-03-04","c":0.72},
      {"d":"2022-03-07","c":0.73},{"d":"2022-03-10","c":0.79},{"d":"2022-03-15","c":0.76},{"d":"2022-03-18","c":0.81},{"d":"2022-03-20","c":0.84},
      {"d":"2022-03-25","c":0.84},{"d":"2022-03-28","c":0.86},{"d":"2022-03-31","c":0.84},{"d":"2022-04-03","c":0.84},{"d":"2022-04-05","c":0.76},
      {"d":"2022-04-07","c":0.78},{"d":"2022-04-10","c":0.70},{"d":"2022-04-13","c":0.74},{"d":"2022-04-15","c":0.78},{"d":"2022-04-18","c":0.77},
      {"d":"2022-04-21","c":0.76}
    ]
  },
  "layer": [
    {
      "layer": [
        {
          "data": {"name": "volume"},
          "mark": {"type": "area", "opacity": 1, "interpolate": "linear"},
          "encoding": {
            "x": {
              "field": "d", "type": "temporal",
              "scale": {"type": "utc", "domain": [{"year": 2017, "month": 6, "date": 1, "utc": true}, {"year": 2022, "month": 6, "date": 1, "utc": true}]},
              "axis": {
                "values": [
                  {"year": 2017, "month": 6, "date": 1, "utc": true},
                  {"year": 2018, "month": 3, "date": 1, "utc": true},
                  {"year": 2018, "month": 12, "date": 1, "utc": true},
                  {"year": 2019, "month": 9, "date": 1, "utc": true},
                  {"year": 2020, "month": 6, "date": 1, "utc": true},
                  {"year": 2021, "month": 3, "date": 1, "utc": true},
                  {"year": 2021, "month": 12, "date": 1, "utc": true}
                ],
                "format": "%b-%y",
                "title": null,
                "grid": true, "gridColor": "#898989", "gridWidth": 2,
                "domainColor": "#d9d9d9", "domainWidth": 4,
                "ticks": true, "tickColor": "#d9d9d9", "tickWidth": 2, "tickSize": 14,
                "labelPadding": 30, "labelFont": "Lato", "labelFontSize": 43, "labelFontWeight": "bold", "labelColor": "#000000",
                "labelFlush": false, "labelOverlap": false
              }
            },
            "y": {
              "field": "v", "type": "quantitative",
              "scale": {"domain": [0, 40], "nice": false},
              "axis": {
                "orient": "left",
                "values": [0, 5, 10, 15, 20, 25, 30, 35, 40],
                "grid": true, "gridColor": "#898989", "gridWidth": 2,
                "domain": true, "domainColor": "#898989", "domainWidth": 2,
                "ticks": false,
                "labelPadding": 48, "labelFont": "Lato", "labelFontSize": 42, "labelColor": "#000000",
                "labelFlush": false, "labelOverlap": false,
                "title": "Billions", "titleFont": "Lato", "titleFontSize": 44, "titleFontWeight": "bold", "titleColor": "#000000",
                "titleAngle": -90, "titleX": -122, "titleY": 90, "titleAlign": "center", "titleBaseline": "alphabetic"
              }
            },
            "color": {
              "datum": "Volume",
              "scale": {"domain": ["Volume", "Close"], "range": ["#a6a6a6", "#1f3864"]},
              "legend": {
                "orient": "none", "legendX": 1109, "legendY": -116, "direction": "horizontal",
                "title": null, "symbolSize": 8100, "symbolOpacity": 1,
                "labelFont": "Lato", "labelFontSize": 46, "labelFontWeight": "bold", "labelOffset": 31,
                "columnPadding": 44, "padding": 0,
                "encode": {
                  "symbols": {"update": {
                    "shape": {"signal": "datum.value === 'Close' ? 'stroke' : 'M-1,-0.34H1V0.34H-1Z'"},
                    "fill": {"signal": "datum.value === 'Close' ? 'transparent' : '#a6a6a6'"},
                    "stroke": {"signal": "datum.value === 'Close' ? '#1f3864' : 'transparent'"},
                    "strokeWidth": {"signal": "datum.value === 'Close' ? 8 : 0"},
                    "strokeCap": {"value": "round"}
                  }},
                  "labels": {"update": {
                    "fill": {"signal": "datum.value === 'Close' ? '#1f3864' : '#a6a6a6'"}
                  }}
                }
              }
            }
          }
        },
        {
          "data": {"values": [{"d1": "2017-06-09", "d2": "2018-10-02", "v1": 36.12, "v2": 39.55}], "format": {"parse": {"d1": "date", "d2": "date"}}},
          "mark": {"type": "rect", "color": "#000000", "opacity": 0.15, "xOffset": 8, "x2Offset": 8, "yOffset": 8, "y2Offset": 8},
          "encoding": {
            "x": {"field": "d1", "type": "temporal", "scale": {"type": "utc", "domain": [{"year": 2017, "month": 6, "date": 1, "utc": true}, {"year": 2022, "month": 6, "date": 1, "utc": true}]}},
            "x2": {"field": "d2"},
            "y": {"field": "v1", "type": "quantitative", "scale": {"domain": [0, 40], "nice": false}},
            "y2": {"field": "v2"}
          }
        },
        {
          "data": {"values": [{"d1": "2017-06-09", "d2": "2018-10-02", "v1": 36.12, "v2": 39.55}], "format": {"parse": {"d1": "date", "d2": "date"}}},
          "mark": {"type": "rect", "fill": "#ffffff", "stroke": "#7f7f7f", "strokeWidth": 3, "opacity": 1},
          "encoding": {
            "x": {"field": "d1", "type": "temporal", "scale": {"type": "utc", "domain": [{"year": 2017, "month": 6, "date": 1, "utc": true}, {"year": 2022, "month": 6, "date": 1, "utc": true}]}},
            "x2": {"field": "d2"},
            "y": {"field": "v1", "type": "quantitative", "scale": {"domain": [0, 40], "nice": false}},
            "y2": {"field": "v2"}
          }
        },
        {
          "data": {"values": [
            {"d": "2017-07-02", "v": 38.2, "t": "Data Source: CoinMarketCap"},
            {"d": "2017-07-02", "v": 36.92, "t": "https://www.coinmarketcap.com"}
          ]},
          "mark": {"type": "text", "align": "left", "baseline": "alphabetic", "font": "Lato", "fontSize": 42, "color": "#000000"},
          "encoding": {
            "x": {"field": "d", "type": "temporal", "scale": {"type": "utc", "domain": [{"year": 2017, "month": 6, "date": 1, "utc": true}, {"year": 2022, "month": 6, "date": 1, "utc": true}]}},
            "y": {"field": "v", "type": "quantitative", "scale": {"domain": [0, 40], "nice": false}},
            "text": {"field": "t"}
          }
        },
        {
          "data": {"values": [{"d": "2021-09-11", "v": 45.33, "t": "advisorperspectives.com"}]},
          "mark": {"type": "text", "align": "left", "baseline": "alphabetic", "font": "Lato", "fontSize": 47, "fontWeight": "bold", "color": "#44546a"},
          "encoding": {
            "x": {"field": "d", "type": "temporal", "scale": {"type": "utc", "domain": [{"year": 2017, "month": 6, "date": 1, "utc": true}, {"year": 2022, "month": 6, "date": 1, "utc": true}]}},
            "y": {"field": "v", "type": "quantitative", "scale": {"domain": [0, 40], "nice": false}},
            "text": {"field": "t"}
          }
        },
        {
          "data": {"values": [{"d": "2021-09-19", "v": 43.99, "t": "Data through Apr 21"}]},
          "mark": {"type": "text", "align": "left", "baseline": "alphabetic", "font": "Lato", "fontSize": 46, "fontWeight": "bold", "color": "#44546a"},
          "encoding": {
            "x": {"field": "d", "type": "temporal", "scale": {"type": "utc", "domain": [{"year": 2017, "month": 6, "date": 1, "utc": true}, {"year": 2022, "month": 6, "date": 1, "utc": true}]}},
            "y": {"field": "v", "type": "quantitative", "scale": {"domain": [0, 40], "nice": false}},
            "text": {"field": "t"}
          }
        },
        {
          "data": {"values": [{"d": "2017-03-16", "v": 45.14, "t": "ADVISOR"}]},
          "mark": {"type": "text", "align": "left", "baseline": "alphabetic", "font": "Lato", "fontSize": 49, "fontWeight": "bold", "color": "#7b1416"},
          "encoding": {
            "x": {"field": "d", "type": "temporal", "scale": {"type": "utc", "domain": [{"year": 2017, "month": 6, "date": 1, "utc": true}, {"year": 2022, "month": 6, "date": 1, "utc": true}]}},
            "y": {"field": "v", "type": "quantitative", "scale": {"domain": [0, 40], "nice": false}},
            "text": {"field": "t"}
          }
        },
        {
          "data": {"values": [{"d": "2017-03-16", "v": 44.33, "t": "PERSPECTIVES"}]},
          "mark": {"type": "text", "align": "left", "baseline": "alphabetic", "font": "Lato", "fontSize": 48, "fontWeight": 300, "color": "#b8994d"},
          "encoding": {
            "x": {"field": "d", "type": "temporal", "scale": {"type": "utc", "domain": [{"year": 2017, "month": 6, "date": 1, "utc": true}, {"year": 2022, "month": 6, "date": 1, "utc": true}]}},
            "y": {"field": "v", "type": "quantitative", "scale": {"domain": [0, 40], "nice": false}},
            "text": {"field": "t"}
          }
        },
        {
          "data": {"values": [{"d": "2017-02-16", "v": 45.09}]},
          "mark": {"type": "point", "shape": "circle", "size": 4096, "filled": false, "stroke": "#b8994d", "strokeWidth": 5, "opacity": 1},
          "encoding": {
            "x": {"field": "d", "type": "temporal", "scale": {"type": "utc", "domain": [{"year": 2017, "month": 6, "date": 1, "utc": true}, {"year": 2022, "month": 6, "date": 1, "utc": true}]}},
            "y": {"field": "v", "type": "quantitative", "scale": {"domain": [0, 40], "nice": false}}
          }
        },
        {
          "data": {"values": [{"d": "2017-02-16", "v": 45.09}]},
          "mark": {"type": "point", "shape": "M0,-1L0.1,-0.25L0.35,-0.35L0.25,-0.1L0.92,0L0.25,0.1L0.35,0.35L0.1,0.25L0,1L-0.1,0.25L-0.35,0.35L-0.25,0.1L-0.92,0L-0.25,-0.1L-0.35,-0.35L-0.1,-0.25Z", "size": 5184, "filled": true, "color": "#7b1416", "opacity": 1},
          "encoding": {
            "x": {"field": "d", "type": "temporal", "scale": {"type": "utc", "domain": [{"year": 2017, "month": 6, "date": 1, "utc": true}, {"year": 2022, "month": 6, "date": 1, "utc": true}]}},
            "y": {"field": "v", "type": "quantitative", "scale": {"domain": [0, 40], "nice": false}}
          }
        }
      ]
    },
    {
      "layer": [
        {
          "data": {"name": "close"},
          "mark": {"type": "line", "color": "#000000", "opacity": 0.12, "strokeWidth": 13, "xOffset": 6, "yOffset": 8, "strokeJoin": "round", "strokeCap": "round"},
          "encoding": {
            "x": {"field": "d", "type": "temporal", "scale": {"type": "utc", "domain": [{"year": 2017, "month": 6, "date": 1, "utc": true}, {"year": 2022, "month": 6, "date": 1, "utc": true}]}},
            "y": {"field": "c", "type": "quantitative", "scale": {"domain": [0, 4], "nice": false}}
          }
        },
        {
          "data": {"name": "close"},
          "mark": {"type": "line", "strokeWidth": 7.5, "strokeJoin": "round", "strokeCap": "round"},
          "encoding": {
            "x": {"field": "d", "type": "temporal", "scale": {"type": "utc", "domain": [{"year": 2017, "month": 6, "date": 1, "utc": true}, {"year": 2022, "month": 6, "date": 1, "utc": true}]}},
            "y": {
              "field": "c", "type": "quantitative",
              "scale": {"domain": [0, 4], "nice": false},
              "axis": {
                "orient": "right",
                "values": [0, 0.5, 1, 1.5, 2, 2.5, 3, 3.5, 4],
                "format": "$.1f",
                "grid": false, "domain": false, "ticks": false,
                "labelPadding": 45, "labelFont": "Lato", "labelFontSize": 42, "labelColor": "#000000",
                "labelFlush": false, "labelOverlap": false,
                "title": null
              }
            },
            "color": {
              "datum": "Close",
              "scale": {"domain": ["Volume", "Close"], "range": ["#a6a6a6", "#1f3864"]}
            }
          }
        },
        {
          "data": {"values": [
            {"d": "2021-03-02", "c": 0.544, "t": "$0.45"},
            {"d": "2022-06-19", "c": 0.743, "t": "$0.76"}
          ]},
          "mark": {"type": "text", "align": "center", "baseline": "alphabetic", "font": "Lato", "fontSize": 44, "fontWeight": "bold", "fill": "#ffff00", "stroke": "#ffff00", "strokeWidth": 26, "strokeJoin": "round", "opacity": 0.35},
          "encoding": {
            "x": {"field": "d", "type": "temporal", "scale": {"type": "utc", "domain": [{"year": 2017, "month": 6, "date": 1, "utc": true}, {"year": 2022, "month": 6, "date": 1, "utc": true}]}},
            "y": {"field": "c", "type": "quantitative", "scale": {"domain": [0, 4], "nice": false}},
            "text": {"field": "t"}
          }
        },
        {
          "data": {"values": [
            {"d": "2021-03-02", "c": 0.544, "t": "$0.45"},
            {"d": "2022-06-19", "c": 0.743, "t": "$0.76"}
          ]},
          "mark": {"type": "text", "align": "center", "baseline": "alphabetic", "font": "Lato", "fontSize": 44, "fontWeight": "bold", "fill": "#ffff00", "stroke": "#ffff00", "strokeWidth": 14, "strokeJoin": "round", "opacity": 1},
          "encoding": {
            "x": {"field": "d", "type": "temporal", "scale": {"type": "utc", "domain": [{"year": 2017, "month": 6, "date": 1, "utc": true}, {"year": 2022, "month": 6, "date": 1, "utc": true}]}},
            "y": {"field": "c", "type": "quantitative", "scale": {"domain": [0, 4], "nice": false}},
            "text": {"field": "t"}
          }
        },
        {
          "data": {"values": [
            {"d": "2021-03-02", "c": 0.544, "t": "$0.45"},
            {"d": "2022-06-19", "c": 0.743, "t": "$0.76"}
          ]},
          "mark": {"type": "text", "align": "center", "baseline": "alphabetic", "font": "Lato", "fontSize": 44, "fontWeight": "bold", "color": "#000000"},
          "encoding": {
            "x": {"field": "d", "type": "temporal", "scale": {"type": "utc", "domain": [{"year": 2017, "month": 6, "date": 1, "utc": true}, {"year": 2022, "month": 6, "date": 1, "utc": true}]}},
            "y": {"field": "c", "type": "quantitative", "scale": {"domain": [0, 4], "nice": false}},
            "text": {"field": "t"}
          }
        }
      ]
    }
  ],
  "resolve": {"scale": {"y": "independent"}}
}
